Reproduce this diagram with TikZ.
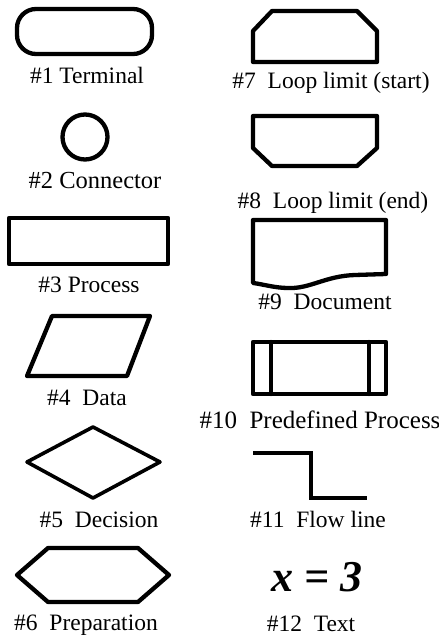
\documentclass[tikz,border=0pt]{standalone}
\usepackage{fontspec}
\setmainfont{Liberation Serif}
\begin{document}
\begin{tikzpicture}[x=1pt,y=-1pt,
  shp/.style={line width=4.3pt,line join=round,line cap=round},
  thinshp/.style={line width=3.6pt,line join=round,line cap=round},
  lbl/.style={anchor=base,inner sep=0pt,font=\fontsize{23.5}{28}\selectfont}]
\useasboundingbox (0,0) rectangle (439,635);
% #1 Terminal
\draw[shp,rounded corners=19pt] (17,9) rectangle (152,54);
\node[lbl] (l1) at (87,83.5) {\#1 Terminal};
% #2 Connector
\draw[shp] (85,137) circle (22.5);
\node[lbl,font=\fontsize{24.5}{28}\selectfont] (l2) at (95,188) {\#2 Connector};
% #3 Process
\draw[shp] (9,218) rectangle (168,264);
\node[lbl] (l3) at (89,292) {\#3 Process};
% #4 Data
\draw[shp] (52,316) -- (150,316) -- (127,376) -- (27,376) -- cycle;
\node[lbl] (l4) at (87,405) {\#4\ \ Data};
% #5 Decision
\draw[thinshp] (93,427) -- (160,462) -- (93,498) -- (27,462) -- cycle;
\node[lbl] (l5) at (99,527) {\#5\ \ Decision};
% #6 Preparation
\draw[shp] (48,548) -- (138,548) -- (169,575) -- (138,602) -- (48,602) -- (17,575) -- cycle;
\node[lbl] (l6) at (86,630) {\#6\ \ Preparation};
% #7 Loop limit (start)
\draw[shp] (272,11) -- (357,11) -- (377,31) -- (377,62) -- (253,62) -- (253,31) -- cycle;
\node[lbl] (l7) at (331,88) {\#7\ \ Loop limit (start)};
% #8 Loop limit (end)
\draw[shp] (253,116) -- (377,116) -- (377,148) -- (357,166) -- (272,166) -- (253,148) -- cycle;
\node[lbl] (l8) at (333,208) {\#8\ \ Loop limit (end)};
% #9 Document
\draw[shp] (253,220) -- (386,220) -- (386,274) -- (355,275)
  .. controls (325,276) and (310,289) .. (288,288)
  .. controls (275,288) and (262,284) .. (253,283) -- cycle;
\node[lbl] (l9) at (325,309) {\#9\ \ Document};
% #10 Predefined Process
\draw[shp] (253,342) rectangle (386,394);
\draw[shp] (271,342) -- (271,394);
\draw[shp] (369,342) -- (369,394);
\node[lbl,font=\fontsize{25}{28}\selectfont] (l10) at (320,428) {\#10\ \ Predefined Process};
% #11 Flow line
\coordinate (f1) at (253,453);
\coordinate (f2) at (311,453);
\coordinate (f3) at (311,498);
\coordinate (f4) at (367,498);
\draw[thinshp,line cap=butt,line join=miter] (f1) -- (f2) -- (f3) -- (f4);
\node[lbl] (l11) at (318,527) {\#11\ \ Flow line};
% #12 Text
\node[inner sep=0pt,font=\fontsize{44}{44}\selectfont\bfseries\itshape] (t12) at (317,577) {x = 3};
\node[lbl] (l12) at (311,631) {\#12\ \ Text};
\end{tikzpicture}
\end{document}
